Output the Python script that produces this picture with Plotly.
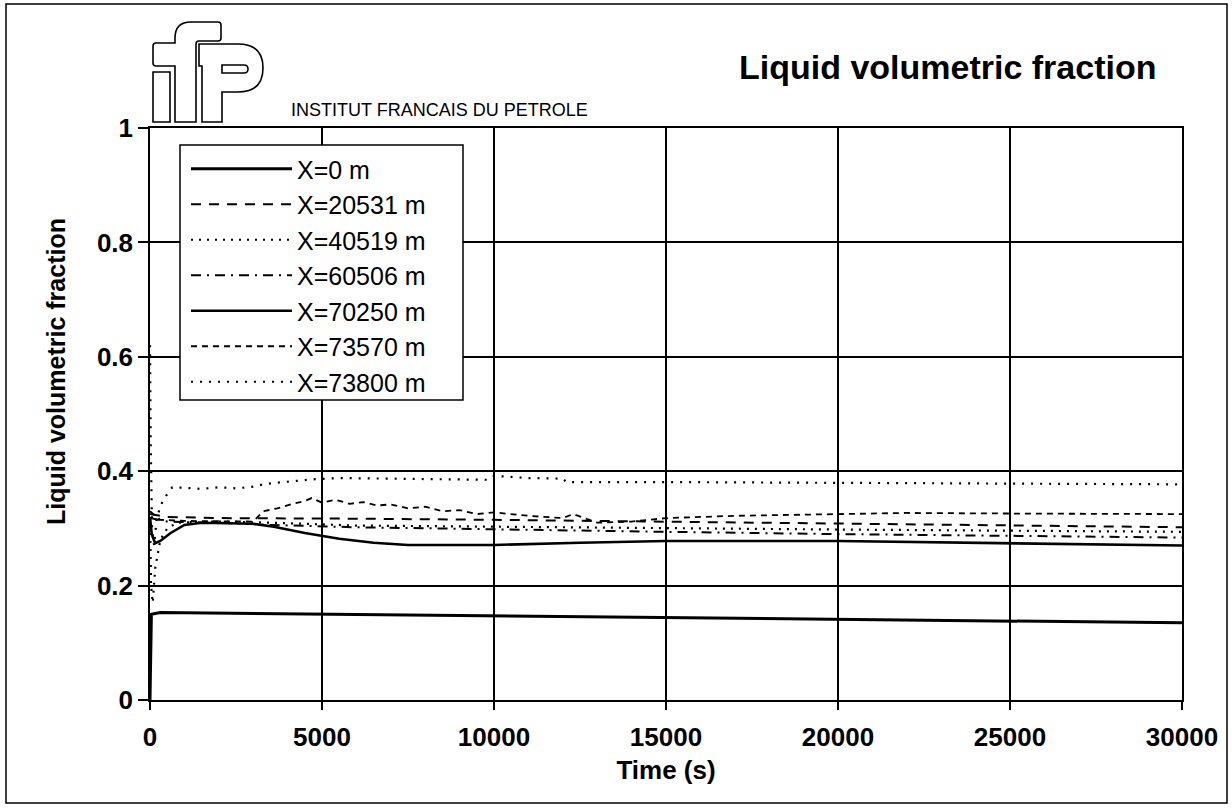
import plotly.graph_objects as go

# ---------------- data ----------------
legend_names = ["X=0 m", "X=20531 m", "X=40519 m", "X=60506 m",
                "X=70250 m", "X=73570 m", "X=73800 m"]

t_x0 = [0, 40, 300, 2000, 5000, 10000, 15000, 20000, 25000, 30000]
v_x0 = [0.0, 0.150, 0.153, 0.152, 0.149, 0.146, 0.143, 0.140, 0.137, 0.135]

t_x20531 = [0, 500, 2000, 3500, 6000, 10000, 15000, 20000, 25000, 30000]
v_x20531 = [0.325, 0.320, 0.318, 0.318, 0.317, 0.315, 0.312, 0.308, 0.305, 0.302]

t_x40519 = [0, 30, 80, 150, 300, 500, 800, 2000, 3500, 6000, 10000, 15000, 20000, 25000, 30000]
v_x40519 = [0.32, 0.20, 0.17, 0.23, 0.28, 0.30, 0.31, 0.312, 0.310, 0.305, 0.303, 0.300, 0.298, 0.296, 0.294]

t_x60506 = [0, 500, 2000, 3500, 6000, 10000, 15000, 20000, 25000, 30000]
v_x60506 = [0.318, 0.312, 0.310, 0.306, 0.302, 0.298, 0.294, 0.290, 0.287, 0.284]

t_x70250 = [0, 50, 150, 300, 600, 1000, 1500, 3000, 3600, 4500, 5500, 6500, 7500,
            10000, 12500, 15000, 20000, 25000, 30000]
v_x70250 = [0.32, 0.29, 0.274, 0.278, 0.292, 0.306, 0.310, 0.308, 0.303, 0.292, 0.282,
            0.275, 0.271, 0.271, 0.275, 0.278, 0.278, 0.274, 0.270]

t_x73570 = [0, 300, 1000, 2000, 3000, 3300, 3700, 4100, 4500, 4700, 5000, 5400, 5800,
            6200, 6600, 7000, 7500, 8000, 8500, 9000, 9500, 10000, 11000, 12000, 12300,
            13000, 14000, 15000, 17000, 20000, 22000, 25000, 27500, 30000]
v_x73570 = [0.33, 0.315, 0.313, 0.312, 0.312, 0.330, 0.335, 0.342, 0.348, 0.353, 0.345,
            0.350, 0.343, 0.346, 0.340, 0.342, 0.335, 0.338, 0.330, 0.332, 0.325, 0.328,
            0.322, 0.318, 0.325, 0.310, 0.312, 0.318, 0.322, 0.325, 0.327, 0.326, 0.325, 0.325]

t_x73800 = [0, 20, 60, 120, 200, 350, 500, 650, 1000, 1500, 2000, 2500, 3000, 3300, 3700,
            4200, 4800, 5500, 7000, 8500, 9800, 10000, 11000, 12000, 12100, 15000, 20000,
            25000, 30000]
v_x73800 = [0.62, 0.45, 0.30, 0.27, 0.32, 0.345, 0.36, 0.372, 0.371, 0.369, 0.372, 0.370,
            0.373, 0.377, 0.380, 0.383, 0.386, 0.388, 0.387, 0.386, 0.385, 0.392, 0.388,
            0.387, 0.381, 0.381, 0.380, 0.379, 0.377]

x_ticks = [0, 5000, 10000, 15000, 20000, 25000, 30000]
y_ticks = [0, 0.2, 0.4, 0.6, 0.8, 1]
y_tick_text = ["0", "0.2", "0.4", "0.6", "0.8", "1"]

series_t = [t_x0, t_x20531, t_x40519, t_x60506, t_x70250, t_x73570, t_x73800]
series_v = [v_x0, v_x20531, v_x40519, v_x60506, v_x70250, v_x73570, v_x73800]

# ---------------- styling ----------------
dash_styles = ["solid", "10px,8px", "2px,6px", "10px,6px,2px,6px", "solid", "6px,5px", "2px,7px"]
widths = [3, 2, 2.2, 2, 2.6, 1.8, 2.2]
FONT = "Arial, Liberation Sans, sans-serif"

W, H = 1232, 809
ML, MR, MT, MB = 150, 50, 128, 109
PW, PH = W - ML - MR, H - MT - MB


def px(x):
    return (x - ML) / PW


def py(y):
    return (H - MB - y) / PH


fig = go.Figure()
for i, name in enumerate(legend_names):
    fig.add_trace(go.Scatter(
        x=series_t[i], y=series_v[i], mode="lines", name=name,
        legendgroup=name,
        line=dict(color="black", width=widths[i], dash=dash_styles[i]),
    ))

# ---------------- decorations: frame, legend box and logo ----------------
shapes = [
    dict(type="rect", xref="paper", yref="paper",
         x0=px(6), x1=px(1227), y0=py(4), y1=py(803),
         line=dict(color="black", width=1.5), layer="below"),
    dict(type="rect", xref="paper", yref="paper",
         x0=px(180), x1=px(463), y0=py(145), y1=py(400),
         line=dict(color="black", width=1.5), fillcolor="white", layer="above"),
]


def path_px(cmds):
    out = []
    for c in cmds:
        if isinstance(c, str):
            out.append(c)
        else:
            out.append(f"{px(c[0]):.5f},{py(c[1]):.5f}")
    return " ".join(out)


logo_paths = [
    ["M", (153, 72), "L", (170, 72), "L", (170, 122), "L", (153, 122), "Z"],
    ["M", (175, 122), "L", (175, 66), "L", (156, 66), "Q", (153, 66), (153, 63),
     "L", (153, 46), "Q", (153, 43), (156, 43), "L", (175, 43), "L", (175, 38),
     "Q", (175, 22), (191, 22), "L", (218, 22), "Q", (221, 22), (221, 25),
     "L", (221, 38), "Q", (221, 41), (218, 41), "L", (199, 41), "Q", (196, 41), (196, 44),
     "L", (196, 122), "Z"],
    ["M", (202, 122), "L", (202, 66), "L", (199, 66), "L", (199, 44), "L", (238, 44),
     "Q", (263, 44), (263, 68), "Q", (263, 92), (238, 92), "L", (222, 92),
     "L", (222, 122), "Z"],
    ["M", (222, 65), "L", (244, 65), "Q", (248, 65), (248, 69), "Q", (248, 73), (244, 73),
     "L", (222, 73), "Z"],
]
for p in logo_paths:
    shapes.append(dict(type="path", xref="paper", yref="paper", path=path_px(p),
                       line=dict(color="black", width=1.6), fillcolor="rgba(0,0,0,0)"))

annotations = [
    dict(text="<b>Liquid volumetric fraction</b>", xref="paper", yref="paper",
         x=px(1158), y=py(67), xanchor="right", yanchor="middle", showarrow=False,
         font=dict(family=FONT, size=34, color="black")),
    dict(text="INSTITUT FRANCAIS DU PETROLE", xref="paper", yref="paper",
         x=px(289), y=py(110), xanchor="left", yanchor="middle", showarrow=False,
         font=dict(family=FONT, size=18, color="black")),
    dict(text="<b>Liquid volumetric fraction</b>", xref="paper", yref="paper",
         x=px(56), y=py(372), xanchor="center", yanchor="middle", showarrow=False,
         textangle=-90, font=dict(family=FONT, size=25, color="black")),
]

fig.update_layout(
    width=W, height=H,
    margin=dict(l=ML, r=MR, t=MT, b=MB),
    paper_bgcolor="white", plot_bgcolor="white",
    font=dict(family=FONT, color="black"),
    shapes=shapes, annotations=annotations,
    showlegend=True,
    legend=dict(x=px(186), y=py(146), xanchor="left", yanchor="top",
                bgcolor="rgba(0,0,0,0)", borderwidth=0,
                font=dict(family=FONT, size=25, color="black"),
                itemwidth=101, tracegroupgap=0, traceorder="normal"),
)
fig.update_xaxes(
    range=[0, 30000], tickvals=x_ticks, tickformat="d",
    showgrid=True, gridcolor="black", gridwidth=1.5,
    showline=True, linecolor="black", linewidth=1.5, mirror=True,
    ticks="outside", ticklen=8, tickcolor="black", tickwidth=1.5,
    tickfont=dict(family=FONT, size=26, color="black", weight="bold"),
    ticklabelstandoff=5, zeroline=False,
    title=dict(text="<b>Time (s)</b>", font=dict(family=FONT, size=26, color="black"),
               standoff=10),
)
fig.update_yaxes(
    range=[0, 1], tickvals=y_ticks, ticktext=y_tick_text,
    showgrid=True, gridcolor="black", gridwidth=1.5,
    showline=True, linecolor="black", linewidth=1.5, mirror=True,
    ticks="outside", ticklen=10, tickcolor="black", tickwidth=1.5,
    tickfont=dict(family=FONT, size=26, color="black", weight="bold"),
    zeroline=False,
)

fig.write_html("out.html", config={"displayModeBar": False},
               post_script="document.body.style.margin='0';")
